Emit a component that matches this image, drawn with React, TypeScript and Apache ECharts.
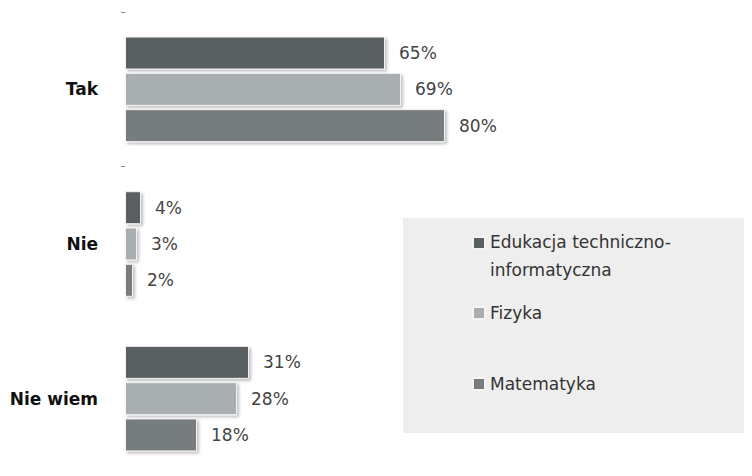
import React, { useEffect, useRef } from "react";
import * as echarts from "echarts";

const categories = ["Tak", "Nie", "Nie wiem"];
const seriesNames = ["Edukacja techniczno-informatyczna", "Fizyka", "Matematyka"];
const eduValues = [65, 4, 31];
const fizValues = [69, 3, 28];
const matValues = [80, 2, 18];
const colors = ["#5a5f62", "#a9aeb1", "#777c7f"];

export default function App() {
  const ref = useRef<HTMLDivElement>(null);
  useEffect(() => {
    if (!ref.current) return;
    const chart = echarts.init(ref.current, undefined, { renderer: "svg" });
    const values = [eduValues, fizValues, matValues];
    const font = "DejaVu Sans";
    const legendTops = [228, 299, 370];
    chart.setOption({
      animation: false,
      backgroundColor: "#ffffff",
      graphic: [
        {
          type: "rect",
          shape: { x: 403, y: 218, width: 360, height: 215 },
          style: { fill: "#eeeeee" },
          z: -10,
        },
      ],
      legend: seriesNames.map((n, i) => ({
        data: [n],
        orient: "vertical",
        left: 472,
        top: legendTops[i],
        icon: i === 0 ? "path://M0,0h12v12h-12z M0,38L0.001,38" : "rect",
        symbolKeepAspect: false,
        itemWidth: 12,
        itemHeight: i === 0 ? 38 : 12,
        itemGap: 0,
        padding: 0,
        selectedMode: false,
        formatter: (name: string) =>
          name === seriesNames[0] ? "Edukacja techniczno-\ninformatyczna" : name,
        textStyle: {
          fontFamily: font,
          fontSize: 17,
          color: "#333333",
          lineHeight: 28,
        },
      })),
      grid: { left: 125, top: 12, width: 400, height: 466, containLabel: false },
      xAxis: {
        type: "value",
        min: 0,
        max: 100,
        show: false,
      },
      yAxis: {
        type: "category",
        data: categories,
        inverse: true,
        axisLine: { show: false },
        axisTick: {
          show: true,
          length: 4,
          lineStyle: { color: "#888888" },
          interval: (idx: number) => idx < 2,
        },
        axisLabel: {
          margin: 27,
          fontFamily: font,
          fontWeight: "bold",
          fontSize: 17,
          color: "#111111",
        },
        splitLine: { show: false },
      },
      series: seriesNames.map((n, i) => ({
        name: n,
        type: "bar",
        data: values[i],
        barWidth: 33,
        barGap: "10%",
        itemStyle: {
          color: colors[i],
          borderColor: "#f4f4f4",
          borderWidth: 1,
          shadowColor: "rgba(0,0,0,0.25)",
          shadowBlur: 3,
          shadowOffsetX: 2,
          shadowOffsetY: 2,
        },
        label: {
          show: true,
          position: "right",
          distance: 14,
          formatter: "{c}%",
          fontFamily: font,
          fontSize: 17,
          color: "#444444",
        },
      })),
    });
    return () => chart.dispose();
  }, []);
  return <div ref={ref} style={{ width: 752, height: 476, margin: -8 }} />;
}
